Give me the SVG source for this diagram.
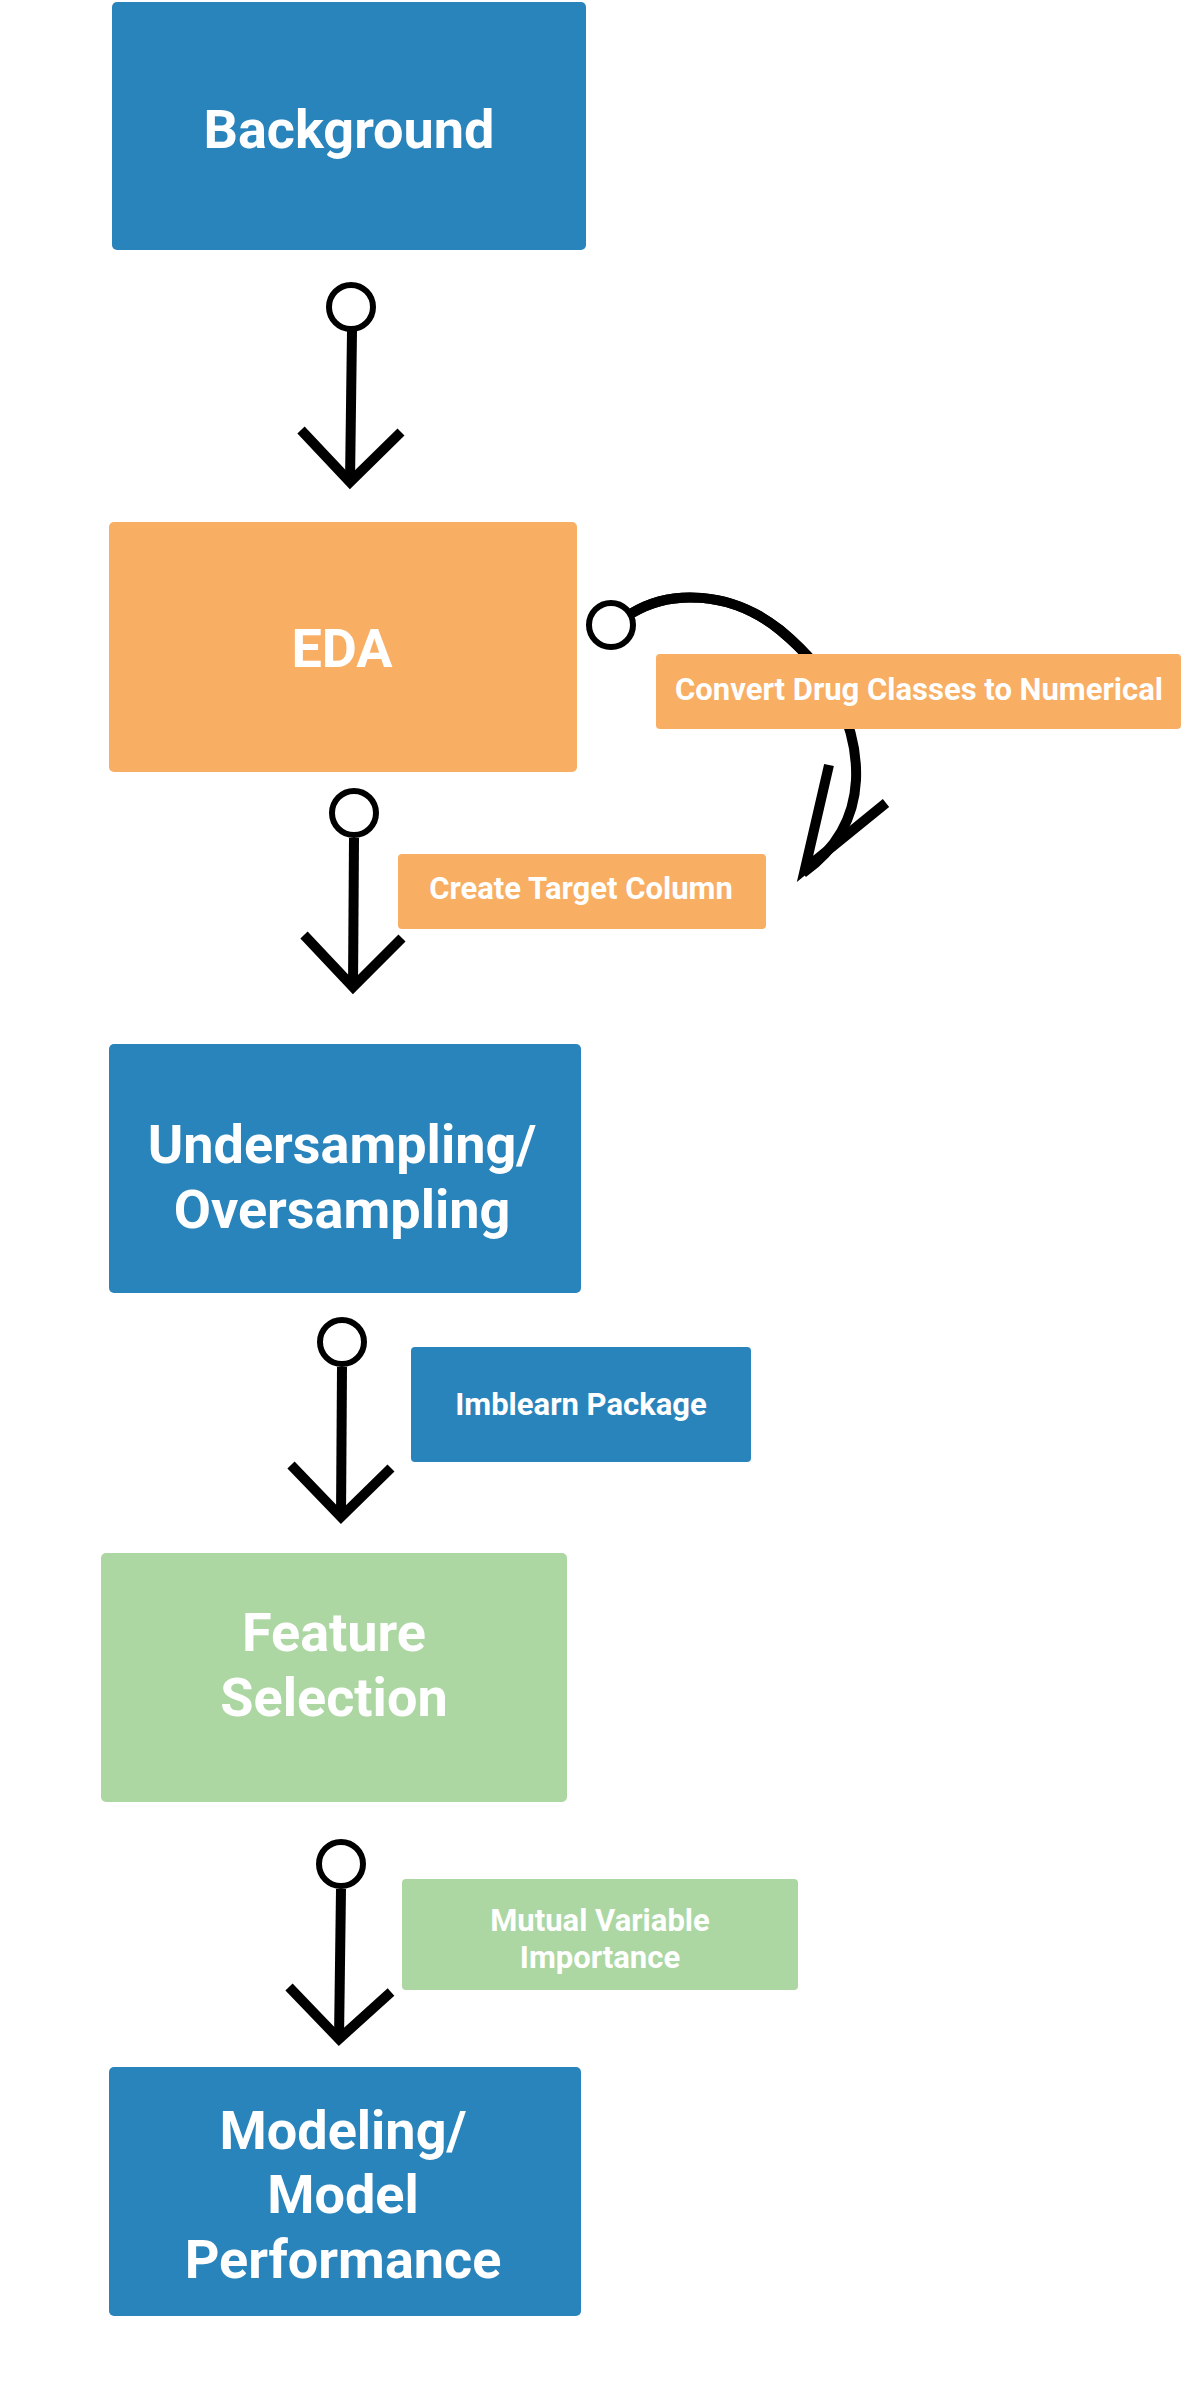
<svg xmlns="http://www.w3.org/2000/svg" width="1196" height="2392" viewBox="0 0 1196 2392">
<style>
.blue{fill:#2a84bc}
.orange{fill:#f8ae63}
.green{fill:#acd7a2}
.t{font-family:Roboto,"Liberation Sans",sans-serif;font-weight:bold;fill:#ffffff;text-anchor:middle}
.big{font-size:54px}
.small{font-size:31px}
.ln{fill:none;stroke:#000;stroke-width:10;stroke-linecap:butt;stroke-linejoin:miter;stroke-miterlimit:10}
.dot{fill:#fff;stroke:#000;stroke-width:6}
</style>
<rect width="1196" height="2392" fill="#ffffff"/>
<g id="connectors">
<g id="c1">
<line class="ln" x1="352" y1="331" x2="350" y2="482"/>
<polyline class="ln" points="301,430 350,482 401,432"/>
<circle class="dot" cx="351" cy="307" r="22"/>
</g>
<g id="c2">
<line class="ln" x1="354" y1="838" x2="353" y2="987"/>
<polyline class="ln" points="304,935 353,987 402,938"/>
<circle class="dot" cx="354" cy="813" r="22"/>
</g>
<g id="c3">
<line class="ln" x1="342" y1="1367" x2="341" y2="1517"/>
<polyline class="ln" points="291,1465 341,1517 391,1468"/>
<circle class="dot" cx="342" cy="1342" r="22"/>
</g>
<g id="c4">
<line class="ln" x1="341" y1="1889" x2="339" y2="2039"/>
<polyline class="ln" points="289,1987 339,2039 391,1992"/>
<circle class="dot" cx="341" cy="1864" r="22"/>
</g>
<g id="c5">
<path class="ln" d="M 632 613 C 670 590, 730 590, 780 630 C 835 675, 858 730, 856 780 C 854 820, 835 850, 803 873" stroke-width="9"/>
<path class="ln" d="M 632 613 C 670 590, 730 590, 780 630 C 810 655, 830 680, 842 705" stroke-width="13"/>
<polyline class="ln" points="829,765 805,869 886,803" stroke-width="9"/>
<circle class="dot" cx="611" cy="625" r="22"/>
</g>
</g>
<g id="n-background">
<rect class="blue" x="112" y="2" width="474" height="248" rx="5"/>
<text class="t big" x="349" y="148">Background</text>
</g>
<g id="n-eda">
<rect class="orange" x="109" y="522" width="468" height="250" rx="5"/>
<text class="t big" x="342" y="667">EDA</text>
</g>
<g id="n-convert">
<rect class="orange" x="656" y="654" width="525" height="75" rx="4"/>
<text class="t small" x="919" y="700">Convert Drug Classes to Numerical</text>
</g>
<g id="n-target">
<rect class="orange" x="398" y="854" width="368" height="75" rx="4"/>
<text class="t small" x="581" y="899">Create Target Column</text>
</g>
<g id="n-sampling">
<rect class="blue" x="109" y="1044" width="472" height="249" rx="5"/>
<text class="t big" x="342" y="1163">Undersampling/</text>
<text class="t big" x="342" y="1228">Oversampling</text>
</g>
<g id="n-imblearn">
<rect class="blue" x="411" y="1347" width="340" height="115" rx="4"/>
<text class="t small" x="581" y="1415">Imblearn Package</text>
</g>
<g id="n-feature">
<rect class="green" x="101" y="1553" width="466" height="249" rx="5"/>
<text class="t big" x="334" y="1651">Feature</text>
<text class="t big" x="334" y="1716">Selection</text>
</g>
<g id="n-mutual">
<rect class="green" x="402" y="1879" width="396" height="111" rx="4"/>
<text class="t small" x="600" y="1931">Mutual Variable</text>
<text class="t small" x="600" y="1968">Importance</text>
</g>
<g id="n-modeling">
<rect class="blue" x="109" y="2067" width="472" height="249" rx="5"/>
<text class="t big" x="343" y="2149">Modeling/</text>
<text class="t big" x="343" y="2213">Model</text>
<text class="t big" x="343" y="2278">Performance</text>
</g>
</svg>
